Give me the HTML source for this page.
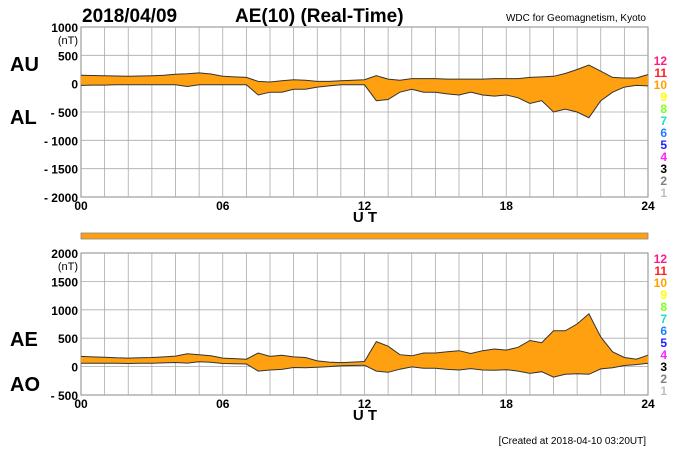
<!DOCTYPE html>
<html><head><meta charset="utf-8">
<style>
html,body{margin:0;padding:0;background:#fff;}
svg{display:block;font-family:"Liberation Sans",sans-serif;}
</style></head>
<body>
<svg id="chart" width="700" height="450" viewBox="0 0 700 450" xmlns="http://www.w3.org/2000/svg">
<text x="82" y="22" font-size="19" font-weight="bold">2018/04/09</text>
<text x="235" y="22" font-size="19" font-weight="bold">AE(10) (Real-Time)</text>
<text x="646" y="21" font-size="10" text-anchor="end">WDC for Geomagnetism, Kyoto</text>
<text x="10" y="71" font-size="20" font-weight="bold">AU</text>
<text x="10" y="124" font-size="20" font-weight="bold">AL</text>
<text x="10" y="346" font-size="20" font-weight="bold">AE</text>
<text x="10" y="391" font-size="20" font-weight="bold">AO</text>
<text x="646" y="444" font-size="10" text-anchor="end">[Created at 2018-04-10 03:20UT]</text>
<g id="g"></g>
</svg>
<script>
const xTicks=["00","06","12","18","24"];
const auValues=[150,145,140,135,130,135,140,150,165,175,190,170,130,120,110,40,30,50,70,60,40,40,50,60,70,140,80,60,90,90,90,80,80,80,80,90,90,90,110,120,130,180,250,330,220,110,100,100,160];
const alValues=[-30,-25,-25,-20,-20,-20,-20,-20,-20,-50,-20,-20,-20,-20,-20,-200,-150,-150,-100,-100,-60,-40,-20,-20,-20,-300,-280,-150,-100,-150,-150,-180,-200,-150,-200,-220,-200,-250,-350,-300,-500,-450,-500,-600,-300,-150,-60,-30,-40];
const topTicks=[1000,500,0,-500,-1000,-1500,-2000];
const botTicks=[2000,1500,1000,500,0,-500];
const stationLabels=["12","11","10","9","8","7","6","5","4","3","2","1"];
const stationColors=["#ff1a8c","#ff2020","#ffa000","#ffff00","#80ff20","#20e0c0","#2080ff","#2020ff","#ff20ff","#000000","#808080","#c0c0c0"];

const NS="http://www.w3.org/2000/svg";
const g=document.getElementById('g');
function mk(t,a,txt){const e=document.createElementNS(NS,t);for(const k in a)e.setAttribute(k,a[k]);if(txt!==undefined)e.textContent=txt;g.appendChild(e);return e;}
const X0=81,X1=648;
const xs=h=>X0+(X1-X0)*h/24;
function panel(top,bot,vmax,vmin,ticks,upper,lower,pfx,lblStart){
  const ys=v=>top+(vmax-v)*(bot-top)/(vmax-vmin);
  let e=mk('rect',{x:X0,y:top,width:X1-X0,height:bot-top,fill:'#fff',stroke:'#888','stroke-width':1});
  
  for(let h=1;h<24;h++){e=mk('line',{x1:xs(h),x2:xs(h),y1:top,y2:bot,stroke:'#aaa','stroke-width':0.8});
    }
  ticks.forEach((t,i)=>{const y=ys(t);
    if(i>0&&i<ticks.length-1){e=mk('line',{x1:X0,x2:X1,y1:y,y2:y,stroke:'#aaa','stroke-width':0.8});
      }
    const lbl=t<0?'- '+(-t):String(t);
    e=mk('text',{x:X0-3,y:y+5,'font-size':12,'font-weight':'bold','text-anchor':'end'},lbl);
    
  });
  e=mk('text',{x:X0-3,y:top+17,'font-size':11,'text-anchor':'end'},'(nT)');
  
  const n=upper.length;
  let d='';
  for(let i=0;i<n;i++)d+=(i?'L':'M')+xs(i*24/(n-1)).toFixed(1)+','+ys(upper[i]).toFixed(1);
  let d2='';
  for(let i=n-1;i>=0;i--)d2+='L'+xs(i*24/(n-1)).toFixed(1)+','+ys(lower[i]).toFixed(1);
  e=mk('path',{d:d+d2+'Z',fill:'#ffa010',stroke:'none'});
  
  let dl='';for(let i=n-1;i>=0;i--)dl+=(i==n-1?'M':'L')+xs(i*24/(n-1)).toFixed(1)+','+ys(lower[i]).toFixed(1);
  e=mk('path',{d:d,fill:'none',stroke:'#333','stroke-width':1});
  
  e=mk('path',{d:dl,fill:'none',stroke:'#333','stroke-width':1});
  
  xTicks.forEach((t,i)=>{e=mk('text',{x:xs(i*6),y:bot+13,'font-size':12,'font-weight':'bold','text-anchor':'middle'},t);
    });
  e=mk('text',{x:365,y:bot+25,'font-size':15,'font-weight':'bold','text-anchor':'middle'},'U T');
  
  stationLabels.forEach((s,i)=>{e=mk('text',{x:667,y:lblStart+i*12,'font-size':12,'font-weight':'bold','text-anchor':'end',fill:stationColors[i]},s);
    });
}
panel(27,197,1000,-2000,topTicks,auValues,alValues,'top',65);
const aeValues=auValues.map((u,i)=>u-alValues[i]);
const aoValues=auValues.map((u,i)=>(u+alValues[i])/2);
panel(253,395,2000,-500,botTicks,aeValues,aoValues,'bottom',263);
const b=mk('rect',{x:X0,y:233,width:X1-X0,height:6,fill:'#ffa010',stroke:'#888','stroke-width':0.8});

</script>
</body></html>
